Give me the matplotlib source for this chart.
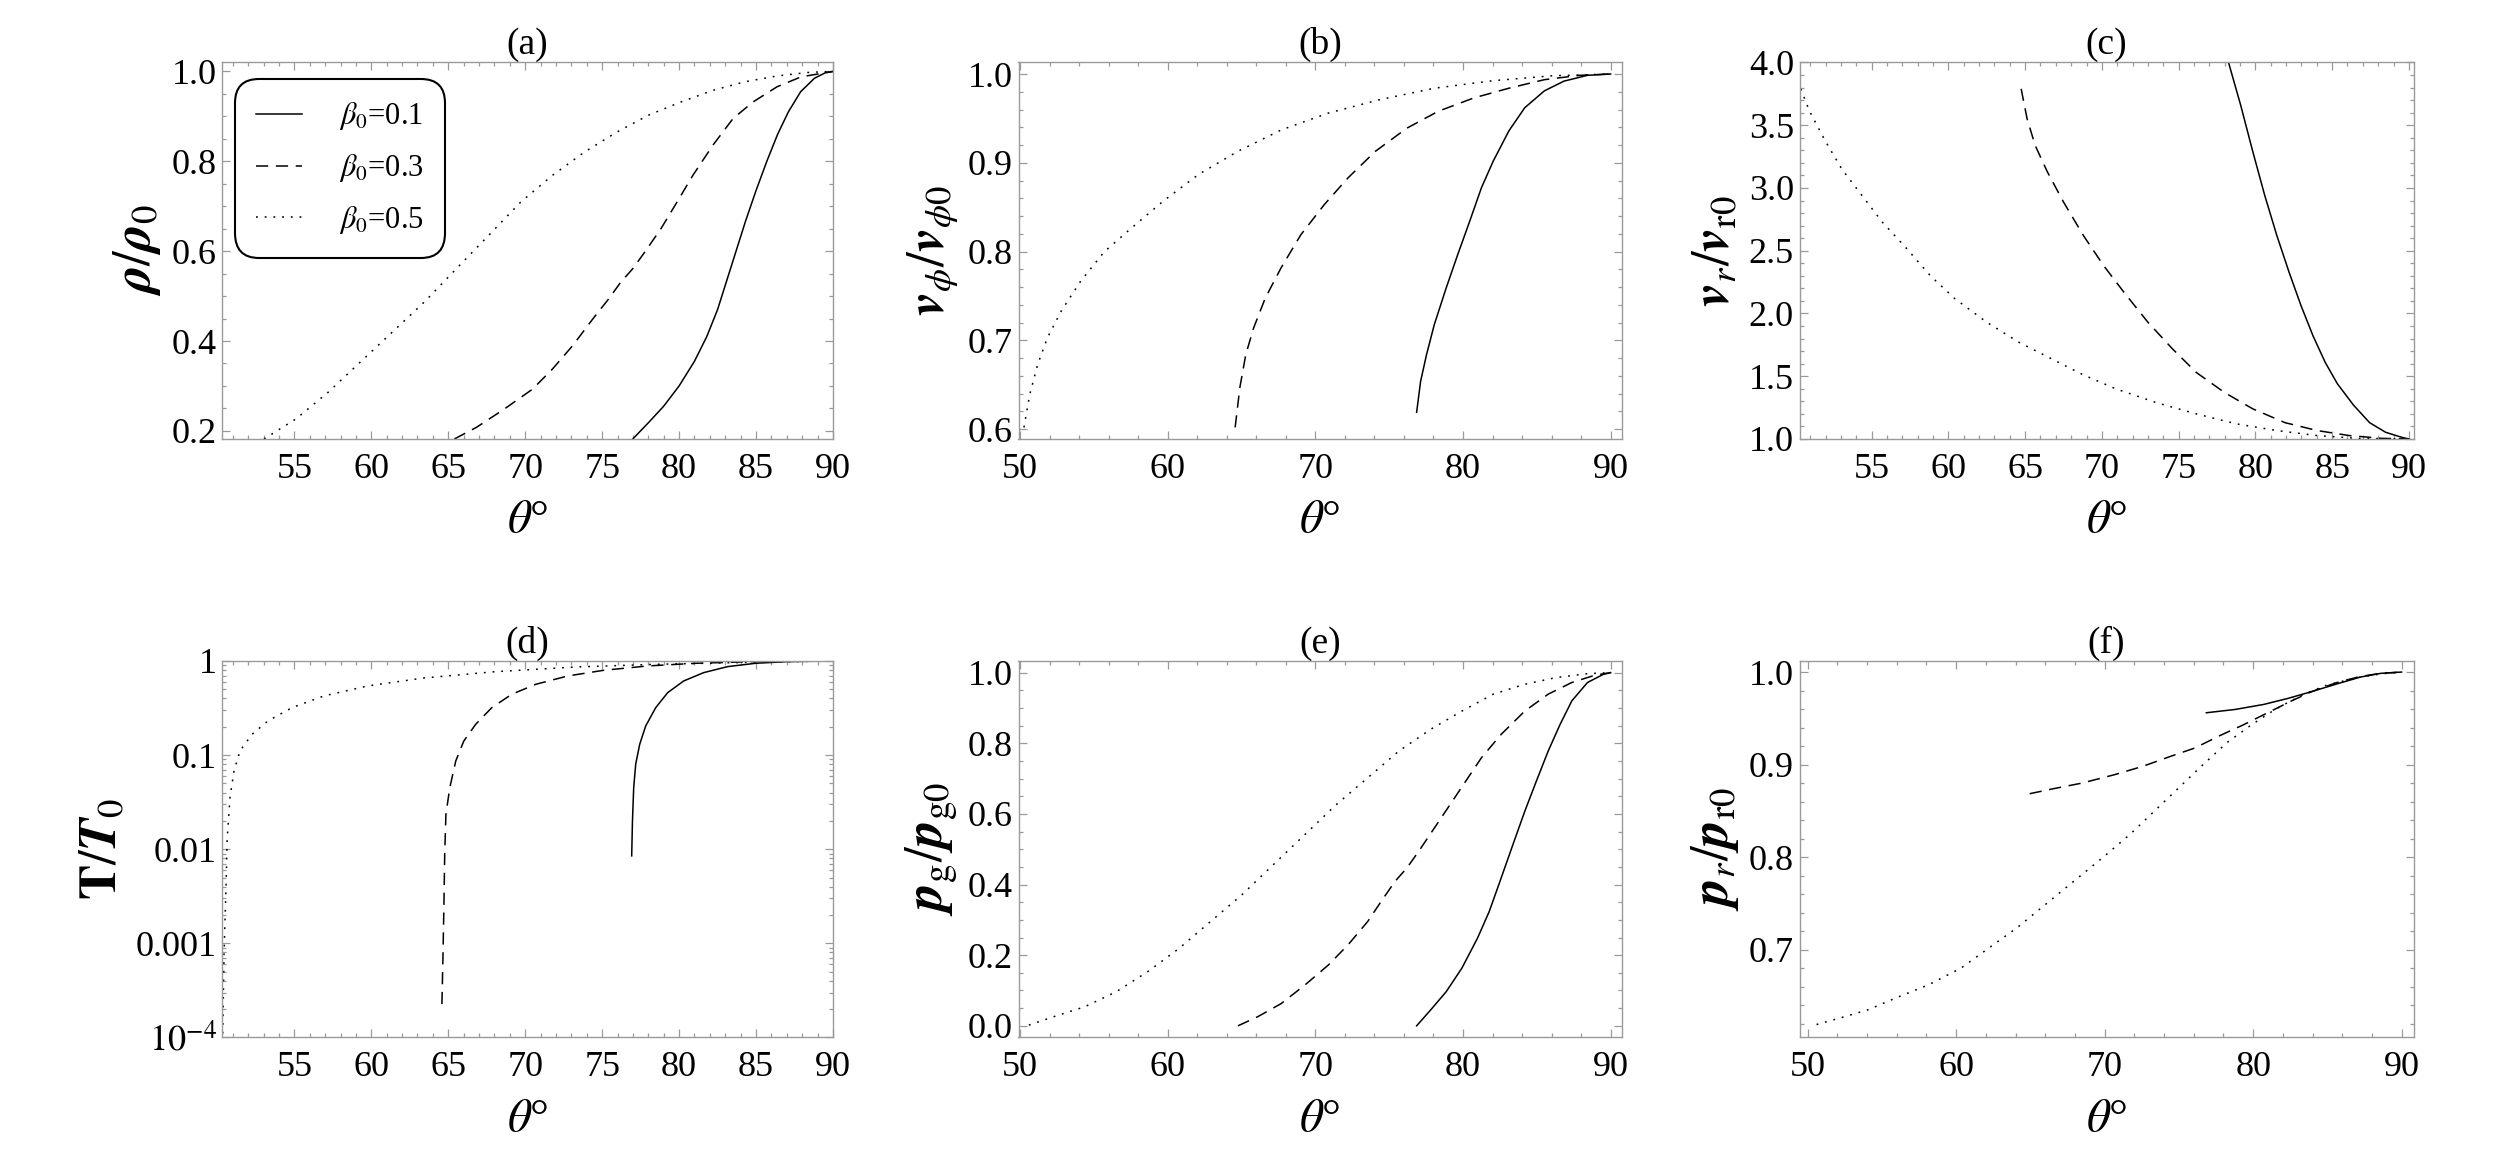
# six-panel profiles along theta for three beta_0 values (Mathematica-like look)
import matplotlib
matplotlib.use('Agg')
import matplotlib.pyplot as plt
from matplotlib.ticker import MultipleLocator, FixedLocator, LogLocator, NullFormatter, FormatStrFormatter

plt.rcParams['font.family'] = ['Liberation Serif', 'DejaVu Serif']
plt.rcParams['mathtext.fontset'] = 'stix'

betas = ['0.1', '0.3', '0.5']
styles = ['-', (0, (8, 5)), (0, (1.2, 4.5))]
lw = 1.1
frame_col = '#9a9a9a'

# (a) rho/rho0
a_th_1 = [76.99, 78.03, 79.0, 80.0, 81.0, 81.8, 82.5, 83.1, 83.7, 84.3, 85.0, 85.7, 86.4, 87.1, 87.9, 88.8, 89.5, 90.0]
a_y_1 = [0.182, 0.219, 0.255, 0.300, 0.355, 0.41, 0.47, 0.535, 0.60, 0.665, 0.735, 0.80, 0.86, 0.91, 0.955, 0.985,
         0.997, 1.0]
a_th_3 = [65.4, 66.84, 68.66, 70.48, 71.78, 73.09, 74.39, 75.43, 76.21, 76.99, 77.77, 78.82, 79.86, 80.9, 82.2,
          83.5, 84.8, 86.37, 87.93, 90.0]
a_y_3 = [0.182, 0.208, 0.249, 0.293, 0.338, 0.390, 0.449, 0.494, 0.531, 0.561, 0.598, 0.650, 0.709, 0.769, 0.836,
         0.895, 0.932, 0.966, 0.988, 1.0]
a_th_5 = [53.03, 55.12, 57.2, 59.28, 61.37, 63.45, 65.53, 67.62, 69.7, 71.78, 73.87, 75.95, 78.03, 80.12, 82.2,
          84.28, 86.37, 88.45, 90.0]
a_y_5 = [0.182, 0.227, 0.286, 0.353, 0.420, 0.487, 0.561, 0.635, 0.709, 0.769, 0.821, 0.865, 0.903, 0.932, 0.958,
         0.977, 0.990, 0.998, 1.0]

# (b) v_phi/v_phi0
b_th_1 = [76.86, 77.13, 77.53, 78.06, 78.86, 79.65, 80.45, 81.25, 82.05, 83.11, 84.18, 85.51, 86.84, 88.43, 90.0]
b_y_1 = [0.619, 0.654, 0.684, 0.718, 0.759, 0.797, 0.834, 0.872, 0.902, 0.936, 0.962, 0.981, 0.992, 0.9985, 1.0]
b_th_3 = [64.57, 64.89, 65.29, 65.82, 66.62, 67.69, 69.02, 70.61, 72.21, 74.07, 76.2, 78.32, 80.72, 83.11, 85.51,
          87.9, 90.0]
b_y_3 = [0.602, 0.647, 0.684, 0.714, 0.748, 0.782, 0.819, 0.853, 0.883, 0.913, 0.939, 0.958, 0.973, 0.984, 0.9936,
         0.9985, 1.0]
b_th_5 = [50.27, 50.66, 51.2, 51.86, 52.79, 54.12, 55.72, 57.58, 59.71, 62.1, 64.76, 67.69, 70.88, 74.34, 78.06,
          82.05, 86.04, 90.0]
b_y_5 = [0.602, 0.639, 0.673, 0.703, 0.733, 0.767, 0.80, 0.827, 0.857, 0.887, 0.913, 0.937, 0.956, 0.971, 0.984,
         0.9925, 0.998, 1.0]

# (c) v_r/v_r0
c_th_1 = [78.25, 79.04, 79.83, 80.61, 81.4, 82.19, 82.98, 83.76, 84.55, 85.34, 86.39, 87.44, 88.49, 89.54, 90.0]
c_y_1 = [4.0, 3.66, 3.29, 2.94, 2.62, 2.33, 2.06, 1.82, 1.61, 1.44, 1.27, 1.13, 1.053, 1.013, 1.0]
c_th_3 = [64.74, 65.13, 65.65, 66.44, 67.49, 68.8, 70.12, 71.43, 73.0, 74.58, 76.15, 77.99, 79.83, 81.93, 84.03,
          86.13, 88.23, 90.0]
c_y_3 = [3.79, 3.55, 3.34, 3.13, 2.89, 2.62, 2.38, 2.17, 1.93, 1.72, 1.53, 1.37, 1.24, 1.13, 1.067, 1.027, 1.005, 1.0]
c_th_5 = [50.38, 50.96, 52.0, 53.06, 54.37, 55.68, 57.26, 58.83, 60.4, 62.5, 64.6, 66.7, 68.8, 70.9, 73.53, 76.15,
          78.78, 81.4, 84.03, 86.65, 90.0]
c_y_5 = [3.79, 3.61, 3.37, 3.15, 2.94, 2.73, 2.52, 2.30, 2.12, 1.93, 1.77, 1.64, 1.51, 1.40, 1.29, 1.20, 1.12,
         1.067, 1.027, 1.005, 1.0]

# (d) T/T0 (log)
d_th_1 = [76.92, 76.97, 77.05, 77.18, 77.44, 77.83, 78.48, 79.26, 80.3, 81.6, 83.16, 84.98, 87.05, 90.0]
d_y_1 = [0.0085, 0.020, 0.045, 0.080, 0.130, 0.204, 0.319, 0.461, 0.613, 0.752, 0.871, 0.945, 0.984, 1.0]
d_th_3 = [64.59, 64.66, 64.72, 64.77, 64.85, 65.1, 65.49, 66.01, 66.79, 67.83, 69.13, 70.69, 72.77, 75.1, 77.96,
          81.08, 84.98, 90.0]
d_y_3 = [2.26e-4, 7.7e-4, 2.6e-3, 8.8e-3, 0.0235, 0.045, 0.0867, 0.141, 0.213, 0.319, 0.443, 0.565, 0.693, 0.796,
         0.885, 0.945, 0.984, 1.0]
d_th_5 = [50.35, 50.43, 50.56, 50.64, 50.82, 51.08, 51.47, 52.25, 53.29, 54.85, 56.92, 59.78, 63.42, 68.09, 73.29,
          78.48, 83.68, 90.0]
d_y_5 = [1.1e-4, 7.7e-4, 3.9e-3, 0.0133, 0.0354, 0.068, 0.111, 0.166, 0.231, 0.319, 0.425, 0.543, 0.66, 0.77, 0.863,
         0.921, 0.96, 1.0]

# (e) p_g/p_g0
e_th_1 = [76.86, 77.79, 78.86, 79.92, 80.98, 81.78, 82.58, 83.38, 84.18, 84.97, 85.77, 86.57, 87.37, 88.43, 89.5, 90.0]
e_y_1 = [0.0, 0.044, 0.0965, 0.163, 0.248, 0.324, 0.418, 0.513, 0.607, 0.693, 0.778, 0.853, 0.920, 0.972, 0.995, 1.0]
e_th_3 = [64.76, 66.09, 67.69, 69.28, 70.88, 72.21, 73.54, 74.6, 75.4, 76.2, 77.0, 78.06, 79.12, 80.19, 81.25,
          82.58, 84.18, 85.77, 87.37, 88.96, 90.0]
e_y_3 = [0.0, 0.0255, 0.063, 0.115, 0.172, 0.229, 0.295, 0.361, 0.409, 0.447, 0.494, 0.56, 0.626, 0.693, 0.759,
         0.825, 0.891, 0.939, 0.972, 0.993, 1.0]
e_th_5 = [50.6, 52.26, 54.39, 56.52, 58.64, 60.77, 62.9, 65.03, 67.15, 69.28, 71.41, 73.54, 75.66, 77.79, 79.92,
          82.05, 84.18, 86.3, 88.43, 90.0]
e_y_5 = [0.002, 0.0255, 0.054, 0.0965, 0.153, 0.219, 0.295, 0.371, 0.456, 0.541, 0.626, 0.702, 0.778, 0.839, 0.891,
         0.939, 0.967, 0.986, 0.997, 1.0]

# (f) p_r/p_r0
f_th_1 = [76.85, 78.8, 80.71, 82.34, 83.97, 85.6, 87.23, 88.59, 90.0]
f_y_1 = [0.956, 0.9596, 0.965, 0.9715, 0.979, 0.987, 0.9946, 0.9986, 1.0]
f_th_3 = [64.95, 66.58, 68.48, 70.65, 72.55, 74.46, 76.09, 77.72, 79.35, 80.98, 82.61, 83.97, 85.6, 87.23, 88.59, 90.0]
f_y_3 = [0.8685, 0.874, 0.880, 0.889, 0.898, 0.909, 0.918, 0.931, 0.943, 0.956, 0.969, 0.979, 0.9885, 0.9953,
         0.9986, 1.0]
f_th_5 = [50.6, 52.17, 54.08, 55.98, 58.15, 60.33, 62.23, 64.13, 66.03, 67.93, 69.84, 71.74, 73.37, 75.0, 76.63,
          78.26, 79.89, 81.52, 83.15, 84.78, 86.96, 88.59, 90.0]
f_y_5 = [0.619, 0.626, 0.635, 0.648, 0.662, 0.680, 0.702, 0.724, 0.749, 0.774, 0.799, 0.825, 0.850, 0.875, 0.900,
         0.924, 0.943, 0.960, 0.974, 0.985, 0.9939, 0.998, 1.0]


def frame(ax, title, ylabel, xlim, ylim, xmaj, xmin, ymaj=None, ymin=None):
    ax.set_xlim(xlim)
    ax.set_ylim(ylim)
    ax.set_title(title, fontsize=27, pad=3)
    ax.set_xlabel(r'$\theta$°', fontsize=34, labelpad=10)
    ax.set_ylabel(ylabel, fontsize=38, labelpad=6)
    ax.xaxis.set_major_locator(MultipleLocator(xmaj))
    ax.xaxis.set_minor_locator(MultipleLocator(xmin))
    if ymaj is not None:
        ax.yaxis.set_major_locator(MultipleLocator(ymaj))
        ax.yaxis.set_minor_locator(MultipleLocator(ymin))
        ax.yaxis.set_major_formatter(FormatStrFormatter('%.1f'))
    for s in ax.spines.values():
        s.set_color(frame_col)
        s.set_linewidth(1.0)
    ax.tick_params(which='both', direction='in', top=True, right=True, color=frame_col, width=0.9)
    ax.tick_params(which='major', length=6, labelsize=26)
    ax.tick_params(which='minor', length=3)
    ax.tick_params(axis='x', which='major', pad=10)
    ax.tick_params(axis='y', which='major', pad=4)


fig = plt.figure(figsize=(25, 11.61), dpi=100)
cols = [(0.0888, 0.2444), (0.4074, 0.2413), (0.7198, 0.2456)]
rows = [0.6219, 0.1064]
h = 0.3243

ax_a = fig.add_axes([cols[0][0], rows[0], cols[0][1], h])
ax_b = fig.add_axes([cols[1][0], rows[0], cols[1][1], h])
ax_c = fig.add_axes([cols[2][0], rows[0], cols[2][1], h])
ax_d = fig.add_axes([cols[0][0], rows[1], cols[0][1], h])
ax_e = fig.add_axes([cols[1][0], rows[1], cols[1][1], h])
ax_f = fig.add_axes([cols[2][0], rows[1], cols[2][1], h])

panels = [
    (ax_a, [(a_th_1, a_y_1), (a_th_3, a_y_3), (a_th_5, a_y_5)]),
    (ax_b, [(b_th_1, b_y_1), (b_th_3, b_y_3), (b_th_5, b_y_5)]),
    (ax_c, [(c_th_1, c_y_1), (c_th_3, c_y_3), (c_th_5, c_y_5)]),
    (ax_d, [(d_th_1, d_y_1), (d_th_3, d_y_3), (d_th_5, d_y_5)]),
    (ax_e, [(e_th_1, e_y_1), (e_th_3, e_y_3), (e_th_5, e_y_5)]),
    (ax_f, [(f_th_1, f_y_1), (f_th_3, f_y_3), (f_th_5, f_y_5)]),
]
for ax, curves in panels:
    for (th, y), ls, b in zip(curves, styles, betas):
        ax.plot(th, y, color='black', lw=lw, linestyle=ls, label=r'$\beta_0$=' + b)

ax_d.set_yscale('log')

frame(ax_a, '(a)', r'$\boldsymbol{\rho}/\boldsymbol{\rho}_0$', (50.3, 90.0), (0.182, 1.02), 5, 1, 0.2, 0.05)
frame(ax_b, '(b)', r'$\boldsymbol{v}_\phi/\boldsymbol{v}_{\phi 0}$', (49.9, 90.75), (0.589, 1.013), 10, 2, 0.1, 0.02)
frame(ax_c, '(c)', r'$\boldsymbol{v}_r/\boldsymbol{v}_{\mathrm{r}0}$', (50.3, 90.3), (1.0, 4.0), 5, 1, 0.5, 0.1)
frame(ax_d, '(d)', r'$\mathbf{T}/\boldsymbol{T}_0$', (50.3, 90.0), (1e-4, 1.0), 5, 1)
frame(ax_e, '(e)', r'$\boldsymbol{p}_\mathrm{g}/\boldsymbol{p}_{\mathrm{g}0}$', (49.9, 90.75), (-0.033, 1.033),
      10, 2, 0.2, 0.05)
frame(ax_f, '(f)', r'$\boldsymbol{p}_r/\boldsymbol{p}_{\mathrm{r}0}$', (49.45, 90.8), (0.605, 1.012), 10, 2, 0.1, 0.02)

for ax in (ax_a, ax_c, ax_d):
    ax.set_xticks([55, 60, 65, 70, 75, 80, 85, 90])
ax_f.set_yticks([0.7, 0.8, 0.9, 1.0])

ax_d.yaxis.set_major_locator(FixedLocator([1e-4, 1e-3, 1e-2, 1e-1, 1.0]))
ax_d.yaxis.set_minor_locator(LogLocator(base=10, subs=range(2, 10)))
ax_d.yaxis.set_minor_formatter(NullFormatter())
ax_d.set_yticklabels([r'$10^{-4}$', '0.001', '0.01', '0.1', '1'])

leg = ax_a.legend(loc='upper left', bbox_to_anchor=(0.021, 0.956), borderaxespad=0, fontsize=22,
                  handlelength=1.5, handletextpad=1.2, labelspacing=0.65, borderpad=0.7,
                  fancybox=True, edgecolor='black', framealpha=1)
leg.get_frame().set_boxstyle('round,pad=0,rounding_size=0.8')
leg.get_frame().set_linewidth(1.5)

fig.savefig('out.png', dpi=100)
